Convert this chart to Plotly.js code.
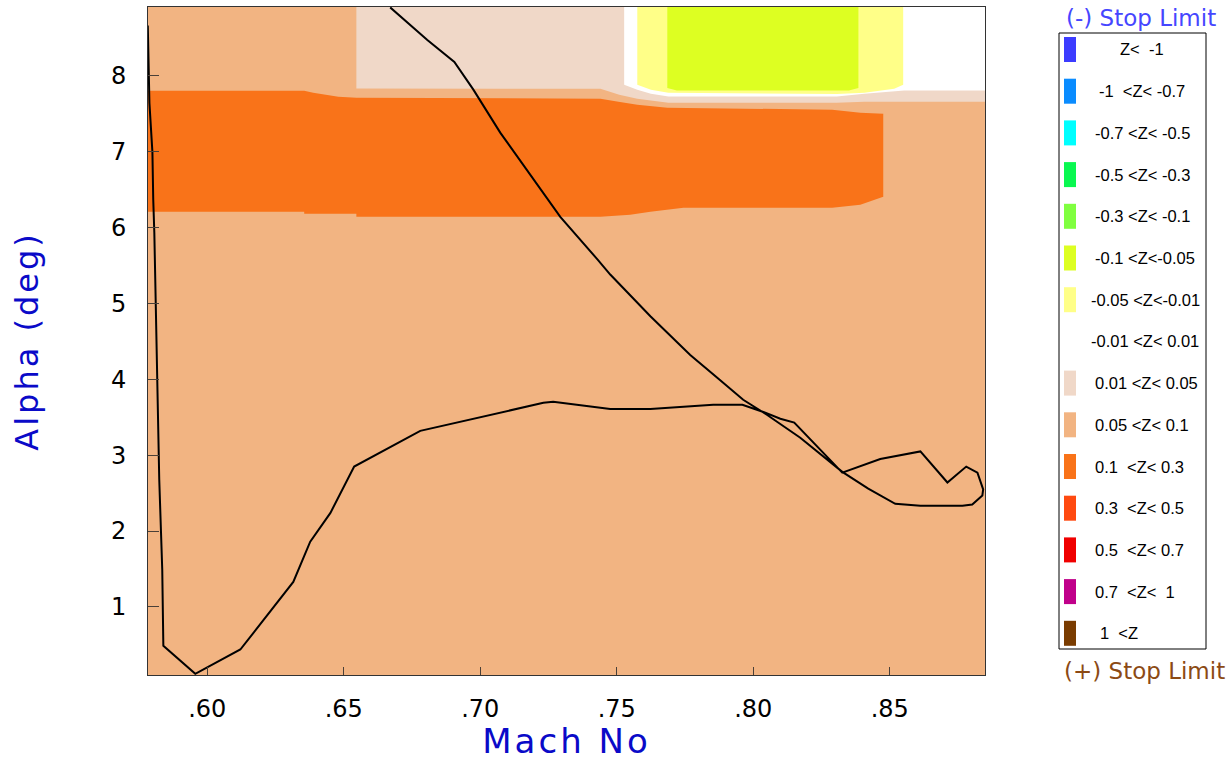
<!DOCTYPE html>
<html>
<head>
<meta charset="utf-8">
<script src="https://cdn.plot.ly/plotly-3.0.1.min.js"></script>
<style>
  html, body { margin: 0; padding: 0; background: #ffffff; }
  #chart { width: 1229px; height: 761px; }
  .g-xtitle text, .g-ytitle text { letter-spacing: 3px; }
</style>
</head>
<body>
<div id="chart"></div>
<script>
// Axis ticks
const machTicks = [0.60, 0.65, 0.70, 0.75, 0.80, 0.85];
const machTickText = ['.60', '.65', '.70', '.75', '.80', '.85'];
const alphaTicks = [1, 2, 3, 4, 5, 6, 7, 8];

// Flight path through the Mach / alpha envelope
const pathMach = [0.667, 0.6806, 0.6905, 0.6974, 0.7073, 0.7183, 0.7293, 0.7429, 0.7476, 0.7623,
  0.7769, 0.7868, 0.7963, 0.8051, 0.8172, 0.8326, 0.8421, 0.8520, 0.8612, 0.8766,
  0.8802, 0.8839, 0.8842, 0.8821, 0.8780, 0.8711, 0.8612, 0.8465, 0.8326, 0.8150,
  0.8099, 0.8037, 0.7960, 0.7853, 0.7744, 0.7623, 0.7476, 0.7304, 0.7267, 0.7231,
  0.6780, 0.6538, 0.6498, 0.6451, 0.6377, 0.6315, 0.6121, 0.5956, 0.5839, 0.5835,
  0.5824, 0.5817, 0.5813, 0.5806, 0.5802, 0.5799, 0.5788, 0.5784, 0.5782];
const pathAlpha = [8.90, 8.47, 8.18, 7.82, 7.25, 6.70, 6.14, 5.58, 5.38, 4.83,
  4.32, 4.02, 3.73, 3.53, 3.23, 2.78, 2.56, 2.36, 2.335, 2.335,
  2.35, 2.47, 2.55, 2.77, 2.85, 2.64, 3.05, 2.95, 2.77, 3.43,
  3.48, 3.57, 3.665, 3.665, 3.64, 3.61, 3.61, 3.69, 3.705, 3.69,
  3.32, 2.85, 2.57, 2.24, 1.86, 1.33, 0.44, 0.12, 0.49, 1.49,
  2.68, 4.03, 5.05, 5.93, 6.37, 6.99, 7.64, 8.12, 8.66];

// Z band outlines (Mach, alpha); the 0.05 < Z < 0.1 band fills the whole field
const band01to03Mach = [0.575, 0.6355, 0.6388, 0.648, 0.6546, 0.744, 0.7506, 0.7575, 0.7685, 0.8289, 0.8392, 0.8476,
  0.8476, 0.8454, 0.8392, 0.8289, 0.7744, 0.7623, 0.7549, 0.744, 0.6546, 0.6546, 0.6355, 0.6355, 0.575];
const band01to03Alpha = [7.80, 7.80, 7.776, 7.723, 7.71, 7.697, 7.657, 7.618, 7.578, 7.552, 7.513, 7.499,
  6.406, 6.379, 6.30, 6.261, 6.261, 6.208, 6.169, 6.142, 6.142, 6.182, 6.182, 6.208, 6.208];

const band001to005Mach = [0.6546, 0.6546, 0.744, 0.7509, 0.7575, 0.7689, 0.8304, 0.8407, 0.89, 0.89];
const band001to005Alpha = [9.0, 7.83, 7.829, 7.75, 7.697, 7.644, 7.644, 7.657, 7.657, 9.0];

const bandNullMach = [0.7527, 0.7527, 0.7575, 0.7625, 0.7689, 0.8306, 0.8407, 0.8516, 0.8553, 0.89, 0.89];
const bandNullAlpha = [9.0, 7.881, 7.816, 7.763, 7.727, 7.727, 7.763, 7.793, 7.806, 7.806, 9.0];

const bandNeg005to001Mach = [0.7575, 0.7575, 0.7625, 0.7689, 0.8306, 0.8407, 0.8516, 0.8549, 0.8549];
const bandNeg005to001Alpha = [9.0, 7.881, 7.816, 7.776, 7.759, 7.776, 7.829, 7.881, 9.0];

const bandNeg01to005Mach = [0.7685, 0.7685, 0.772, 0.835, 0.8385, 0.8385];
const bandNeg01to005Alpha = [9.0, 7.838, 7.806, 7.806, 7.838, 9.0];

// Z band key
const zBandLabels = ['Z<\u00a0\u00a0-1', '-1\u00a0\u00a0<Z<\u00a0-0.7', '-0.7\u00a0<Z<\u00a0-0.5', '-0.5\u00a0<Z<\u00a0-0.3',
  '-0.3\u00a0<Z<\u00a0-0.1', '-0.1\u00a0<Z<-0.05', '-0.05\u00a0<Z<-0.01', '-0.01\u00a0<Z<\u00a00.01',
  '0.01\u00a0<Z<\u00a00.05', '0.05\u00a0<Z<\u00a00.1', '0.1\u00a0\u00a0<Z<\u00a00.3', '0.3\u00a0\u00a0<Z<\u00a00.5',
  '0.5\u00a0\u00a0<Z<\u00a00.7', '0.7\u00a0\u00a0<Z<\u00a0\u00a01', '1\u00a0\u00a0<Z'];
const zBandColors = ['#3C3CFF', '#0A8CFF', '#00FFFF', '#0AF850', '#80FF40', '#DDFF22', '#FFFF88', '#FFFFFF',
  '#F0D8C8', '#F2B482', '#F97319', '#FF4A10', '#F00000', '#C0008A', '#7A3C00'];

// ---- layout geometry (pixels) ----
const M = { l: 148, r: 244, t: 7, b: 86 };
const W = 1229, H = 761;
const PW = W - M.l - M.r, PH = H - M.t - M.b;
const px = x => (x - M.l) / PW;
const py = y => 1 - (y - M.t) / PH;

function band(xs, ys, color) {
  return { x: xs, y: ys, type: 'scatter', mode: 'lines', fill: 'toself', fillcolor: color,
    line: { width: 0, color: color }, hoverinfo: 'skip', showlegend: false };
}

const traces = [
  band(band001to005Mach, band001to005Alpha, zBandColors[8]),
  band(bandNullMach, bandNullAlpha, zBandColors[7]),
  band(bandNeg005to001Mach, bandNeg005to001Alpha, zBandColors[6]),
  band(bandNeg01to005Mach, bandNeg01to005Alpha, zBandColors[5]),
  band(band01to03Mach, band01to03Alpha, zBandColors[10]),
  { x: pathMach, y: pathAlpha, type: 'scatter', mode: 'lines',
    line: { color: '#000000', width: 2 }, showlegend: false, hoverinfo: 'skip' }
];

// key box, swatches and labels
const shapes = [{
  type: 'rect', xref: 'paper', yref: 'paper',
  x0: px(1059), x1: px(1206), y0: py(33), y1: py(649),
  line: { color: '#000000', width: 1 }, fillcolor: 'rgba(0,0,0,0)'
}];
const labelStart = [1118, 1097, 1093, 1093, 1093, 1093, 1089, 1089, 1093, 1093, 1093, 1093, 1093, 1093, 1098];
const annotations = [];
zBandLabels.forEach((lab, i) => {
  const top = 37 + 41.7 * i;
  shapes.push({
    type: 'rect', xref: 'paper', yref: 'paper',
    x0: px(1064), x1: px(1076), y0: py(top), y1: py(top + 25),
    fillcolor: zBandColors[i], line: { width: 0 }
  });
  annotations.push({
    xref: 'paper', yref: 'paper', x: px(labelStart[i]), y: py(top + 12.5),
    xanchor: 'left', yanchor: 'middle', showarrow: false, text: lab,
    font: { family: 'Liberation Sans, Arial', size: 16.5, color: '#000000' }
  });
});
annotations.push({
  xref: 'paper', yref: 'paper', x: px(1141), y: py(18), xanchor: 'center', yanchor: 'middle',
  showarrow: false, text: '(-) Stop Limit',
  font: { family: 'DejaVu Sans', size: 23, color: '#4646FF' }
});
annotations.push({
  xref: 'paper', yref: 'paper', x: px(1144), y: py(671), xanchor: 'center', yanchor: 'middle',
  showarrow: false, text: '(+) Stop Limit',
  font: { family: 'DejaVu Sans', size: 23, color: '#8C4A14' }
});

const layout = {
  width: W, height: H,
  margin: M,
  paper_bgcolor: '#ffffff',
  plot_bgcolor: zBandColors[9],
  showlegend: false,
  xaxis: {
    range: [0.57828, 0.88487], tickvals: machTicks, ticktext: machTickText,
    ticks: 'inside', ticklen: 8, tickwidth: 1, tickcolor: '#4a4038',
    showline: true, mirror: true, linecolor: '#333333', linewidth: 1,
    showgrid: false, zeroline: false, ticklabelstandoff: 12,
    tickfont: { family: 'DejaVu Sans', size: 24, color: '#000000' },
    title: { text: 'Mach No', standoff: 2, font: { family: 'DejaVu Sans', size: 34, color: '#0A0AC8' } }
  },
  yaxis: {
    range: [0.104, 8.905], tickvals: alphaTicks,
    ticks: 'inside', ticklen: 11, tickwidth: 1, tickcolor: '#4a4038',
    showline: true, mirror: true, linecolor: '#333333', linewidth: 1,
    showgrid: false, zeroline: false, ticklabelstandoff: 16,
    tickfont: { family: 'DejaVu Sans', size: 24, color: '#000000' },
    title: { text: 'Alpha (deg)', standoff: 62, font: { family: 'DejaVu Sans', size: 32, color: '#0A0AC8' } }
  },
  shapes: shapes,
  annotations: annotations
};

Plotly.newPlot('chart', traces, layout, { staticPlot: true, displayModeBar: false });
</script>
</body>
</html>
